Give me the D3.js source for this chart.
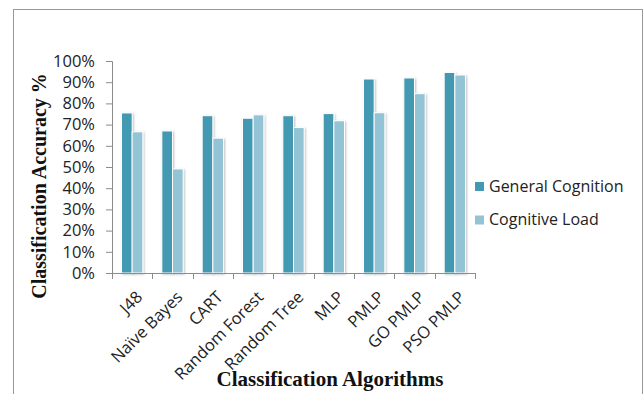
<!DOCTYPE html>
<html>
<head>
<meta charset="utf-8">
<script src="https://cdn.jsdelivr.net/npm/d3@7"></script>
<style>
  body { margin: 0; background: #fff; }
  svg { display: block; }
</style>
</head>
<body>
<div id="chart"></div>
<script>
var algorithms = ["J48", "Naïve Bayes", "CART", "Random Forest", "Random Tree", "MLP", "PMLP", "GO PMLP", "PSO PMLP"];
var generalCognition = [75.5, 67, 74.2, 73, 74.2, 75.2, 91.5, 92, 94.6];
var cognitiveLoad = [66.6, 49.1, 63.6, 74.6, 68.6, 71.8, 75.6, 84.6, 93.4];
var seriesNames = ["General Cognition", "Cognitive Load"];
var yTicks = [0, 10, 20, 30, 40, 50, 60, 70, 80, 90, 100];

var colors = ["#4399b1", "#93c4d6"];

var W = 644, H = 394;
var margin = { top: 61, right: 169, bottom: 121, left: 112 },
    width = W - margin.left - margin.right,
    height = H - margin.top - margin.bottom;

var svg = d3.select("#chart")
    .append("svg")
    .attr("width", W)
    .attr("height", H);

// shadow for bars and grid
var defs = svg.append("defs");
var f = defs.append("filter").attr("id", "shadow")
    .attr("x", "-30%").attr("y", "-10%").attr("width", "160%").attr("height", "130%");
f.append("feDropShadow").attr("dx", 1).attr("dy", 1).attr("stdDeviation", 1)
    .attr("flood-color", "#000").attr("flood-opacity", 0.25);

// outer frame
svg.append("rect")
    .attr("x", 13.5).attr("y", 9.5)
    .attr("width", 629).attr("height", 400)
    .attr("fill", "none").attr("stroke", "#999").attr("stroke-width", 1);

var g = svg.append("g")
    .attr("transform", "translate(" + margin.left + "," + margin.top + ")");

var x = d3.scaleBand().domain(algorithms).range([0, width]).paddingInner(0).paddingOuter(0);
var x1 = d3.scaleBand().domain(seriesNames).range([9.5, x.bandwidth() - 9.5]).padding(0);
var y = d3.scaleLinear().domain([0, 100]).range([height, 0]);

// gridlines
g.append("g")
    .selectAll("line")
    .data(yTicks.slice(1))
    .enter()
    .append("line")
    .attr("x1", 0).attr("x2", width)
    .attr("y1", function (d) { return Math.round(y(d)) + 0.5; })
    .attr("y2", function (d) { return Math.round(y(d)) + 0.5; })
    .attr("stroke", "#8c8c8c")
    .attr("stroke-width", 1)
    .attr("filter", "url(#shadow)");

// y axis
var yAxis = g.append("g")
    .call(d3.axisLeft(y).tickValues(yTicks).tickSize(6).tickFormat(function (d) { return d + "%"; }));
yAxis.select(".domain").attr("stroke", "#8c8c8c");
yAxis.selectAll(".tick line").attr("stroke", "#8c8c8c");
yAxis.selectAll("text")
    .attr("x", -17)
    .style("font-family", "'Open Sans', sans-serif")
    .style("font-size", "16.5px")
    .attr("fill", "#222");

// bars
var groups = g.append("g")
    .selectAll("g")
    .data(algorithms)
    .enter()
    .append("g")
    .attr("transform", function (d) { return "translate(" + x(d) + ",0)"; });

groups.selectAll("rect")
    .data(function (d, i) {
        return [
            { key: seriesNames[0], value: generalCognition[i] },
            { key: seriesNames[1], value: cognitiveLoad[i] }
        ];
    })
    .enter()
    .append("rect")
    .attr("x", function (d) { return x1(d.key); })
    .attr("y", function (d) { return y(d.value); })
    .attr("width", x1.bandwidth())
    .attr("height", function (d) { return height - y(d.value); })
    .attr("fill", function (d, i) { return colors[i]; })
    .attr("stroke", "#fff")
    .attr("stroke-width", 1)
    .attr("filter", "url(#shadow)");

// x axis
var xAxis = g.append("g")
    .attr("transform", "translate(0," + height + ")")
    .call(d3.axisBottom(x).tickSize(0).tickFormat(""));
xAxis.select(".domain").attr("stroke", "#8c8c8c");

g.append("g")
    .attr("transform", "translate(0," + height + ")")
    .selectAll("line")
    .data(algorithms.concat(["end"]))
    .enter()
    .append("line")
    .attr("x1", function (d, i) { return Math.round(i * x.bandwidth()) + 0.5; })
    .attr("x2", function (d, i) { return Math.round(i * x.bandwidth()) + 0.5; })
    .attr("y1", 0).attr("y2", 6)
    .attr("stroke", "#8c8c8c");

g.append("g")
    .selectAll("text")
    .data(algorithms)
    .enter()
    .append("text")
    .attr("transform", function (d) {
        return "translate(" + (x(d) + x.bandwidth() / 2 + 3) + "," + (height + 17) + ") rotate(-45)";
    })
    .attr("text-anchor", "end")
    .attr("dy", "0.7em")
    .style("font-family", "'Open Sans', sans-serif")
    .style("font-size", "16.5px")
    .attr("fill", "#222")
    .text(function (d) { return d; });

// axis titles
svg.append("text")
    .attr("transform", "translate(46," + (margin.top + height / 2 + 19) + ") rotate(-90)")
    .attr("text-anchor", "middle")
    .style("font-family", "'Liberation Serif', serif")
    .style("font-weight", "bold")
    .style("font-size", "20px")
    .attr("fill", "#111")
    .text("Classification Accuracy  %");

svg.append("text")
    .attr("x", 330)
    .attr("y", 386)
    .attr("text-anchor", "middle")
    .style("font-family", "'Liberation Serif', serif")
    .style("font-weight", "bold")
    .style("font-size", "21px")
    .attr("fill", "#111")
    .text("Classification Algorithms");

// legend
var legend = svg.append("g")
    .selectAll("g")
    .data(seriesNames)
    .enter()
    .append("g")
    .attr("transform", function (d, i) { return "translate(475," + (182 + i * 33.5) + ")"; });

legend.append("rect")
    .attr("width", 9).attr("height", 9)
    .attr("fill", function (d, i) { return colors[i]; });

legend.append("text")
    .attr("x", 14)
    .attr("y", 9.5)
    .style("font-family", "'Open Sans', sans-serif")
    .style("font-size", "16px")
    .attr("fill", "#222")
    .text(function (d) { return d; });
</script>
</body>
</html>
